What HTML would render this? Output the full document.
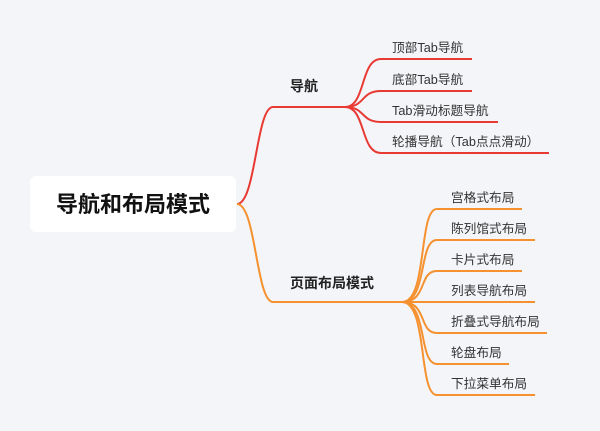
<!DOCTYPE html>
<html><head><meta charset="utf-8"><style>
body{margin:0;background:#f4f5f9;}
svg{display:block}
text{font-family:"Liberation Sans","Noto Sans CJK SC",sans-serif;}
</style></head><body>
<svg width="600" height="431" xmlns="http://www.w3.org/2000/svg">
<rect width="600" height="431" fill="#f4f5f9"/>
<rect x="30" y="176" width="206" height="56" rx="6" fill="#ffffff"/>
<text x="133" y="212" font-size="22" font-weight="bold" text-anchor="middle" fill="#111">导航和布局模式</text>
<g fill="none" stroke="#e83a33" stroke-width="2">
<path d="M237,204 C256,204 256,107 273,107 L345,107"/>
<path d="M345,107 C366,107 360,59 381,59 L472,59"/>
<path d="M345,107 C366,107 360,91 381,91 L472,91"/>
<path d="M345,107 C366,107 360,122 381,122 L498,122"/>
<path d="M345,107 C366,107 360,153 381,153 L549,153"/>
</g>
<g fill="none" stroke="#f5912f" stroke-width="2">
<path d="M237,204 C256,204 256,302 273,302 L402,302"/>
<path d="M402,302 C428,302 418,209 437,209 L522,209"/>
<path d="M402,302 C428,302 418,240 437,240 L535,240"/>
<path d="M402,302 C428,302 418,271 437,271 L522,271"/>
<path d="M402,302 L535,302"/>
<path d="M402,302 C428,302 418,333 437,333 L547,333"/>
<path d="M402,302 C428,302 418,364 437,364 L509,364"/>
<path d="M402,302 C428,302 418,395 437,395 L535,395"/>
</g>
<text x="290" y="91" font-size="14" font-weight="bold" fill="#222">导航</text>
<text x="290" y="288" font-size="14" font-weight="bold" fill="#222">页面布局模式</text>
<g font-size="12.7" fill="#333">
<text x="392" y="52">顶部Tab导航</text>
<text x="392" y="84">底部Tab导航</text>
<text x="392" y="115">Tab滑动标题导航</text>
<text x="392" y="146">轮播导航（Tab点点滑动）</text>
<text x="451" y="202">宫格式布局</text>
<text x="451" y="233">陈列馆式布局</text>
<text x="451" y="264">卡片式布局</text>
<text x="451" y="295">列表导航布局</text>
<text x="451" y="326">折叠式导航布局</text>
<text x="451" y="357">轮盘布局</text>
<text x="451" y="388">下拉菜单布局</text>
</g>
</svg>
</body></html>
